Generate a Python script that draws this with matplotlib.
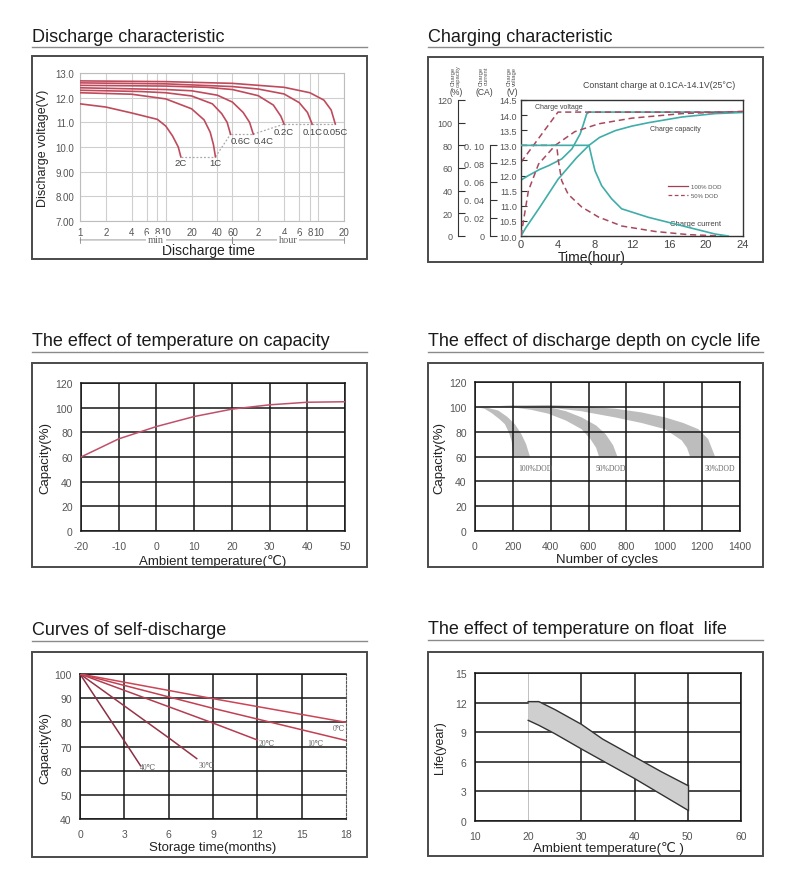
import numpy as np
import matplotlib
matplotlib.use('Agg')
import matplotlib.pyplot as plt
from matplotlib.patches import Rectangle
from matplotlib.lines import Line2D
from matplotlib.ticker import NullLocator

SANS = ['Liberation Sans', 'DejaVu Sans']
SERIF = ['Liberation Serif', 'DejaVu Serif']
plt.rcParams['font.family'] = SANS
plt.rcParams['axes.unicode_minus'] = False

# ---------------- DATA ----------------
# Panel 1: discharge characteristic (time in minutes, voltage)
dis_names = ['0.05C', '0.1C', '0.2C', '0.4C', '0.6C', '1C', '2C']
t_005 = [1, 10, 60, 240, 480, 700, 850, 950]
v_005 = [12.68, 12.65, 12.58, 12.42, 12.2, 11.9, 11.5, 10.93]
t_01 = [1, 10, 60, 120, 240, 360, 450, 510]
v_01 = [12.6, 12.56, 12.45, 12.35, 12.15, 11.8, 11.4, 10.93]
t_02 = [1, 10, 30, 60, 120, 180, 220, 240]
v_02 = [12.5, 12.47, 12.42, 12.33, 12.08, 11.7, 11.25, 10.93]
t_04 = [1, 10, 20, 40, 60, 80, 95, 105]
v_04 = [12.4, 12.33, 12.28, 12.1, 11.82, 11.4, 11.0, 10.52]
t_06 = [1, 5, 10, 20, 35, 45, 52, 57]
v_06 = [12.3, 12.25, 12.2, 12.07, 11.75, 11.35, 11.0, 10.52]
t_1c = [1, 4, 10, 20, 28, 33, 36, 38]
v_1c = [12.2, 12.14, 11.95, 11.55, 11.1, 10.6, 10.1, 9.6]
t_2c = [1, 2, 4, 8, 10, 12, 14, 15]
v_2c = [11.75, 11.62, 11.38, 11.12, 10.85, 10.45, 10.0, 9.6]
dis_xticks = [1, 2, 4, 6, 8, 10, 20, 40, 60, 120, 240, 360, 480, 600, 1200]
dis_xticklabels = ['1', '2', '4', '6', '8', '10', '20', '40', '60', '2', '4', '6', '8', '10', '20']
dis_yticks = [7, 8, 9, 10, 11, 12, 13]
dis_yticklabels = ['7.00', '8.00', '9.00', '10.0', '11.0', '12.0', '13.0']

# Panel 2: charging characteristic (hours)
ch_t_v100 = [0, 0.8, 2, 3, 4.4, 5.5, 6.4, 6.75, 7.1, 7.35, 24]
ch_v100 = [11.85, 12.0, 12.2, 12.33, 12.55, 12.88, 13.38, 13.7, 14.04, 14.1, 14.1]
ch_t_v50 = [0, 4.0, 24]
ch_v50 = [12.44, 14.1, 14.1]
ch_t_c100 = [0, 0.5, 2, 4, 6, 7.35, 8.5, 10.2, 12, 13.8, 17.4, 21, 24]
ch_c100 = [0, 7, 25, 50, 69, 80, 87, 93, 97, 100, 105, 108, 109]
ch_t_c50 = [0, 0.8, 1.9, 3.7, 5.8, 8.4, 12, 17.4, 24]
ch_c50 = [0, 40, 63.5, 80, 92, 99, 104, 108, 110]
ch_t_i100 = [0, 7.35, 7.64, 8.0, 8.72, 9.8, 10.88, 13.77, 17.37, 20.97, 22.4]
ch_i100 = [0.10, 0.10, 0.087, 0.072, 0.0555, 0.041, 0.030, 0.0206, 0.0114, 0.0022, 0.0]
ch_t_i50 = [0, 3.86, 4.04, 4.4, 5.1, 6.56, 8.36, 10.9, 14.5, 18.1, 21.7]
ch_i50 = [0.10, 0.10, 0.083, 0.061, 0.046, 0.032, 0.021, 0.011, 0.005, 0.0015, 0.0]
ch_xticks = [0, 4, 8, 12, 16, 20, 24]
ch_vticks = [10.0, 10.5, 11.0, 11.5, 12.0, 12.5, 13.0, 13.5, 14.0, 14.5]
ch_capticks = [0, 20, 40, 60, 80, 100, 120]
ch_curticks = [0, 0.02, 0.04, 0.06, 0.08, 0.10]
ch_curticklabels = ['0', '0. 02', '0. 04', '0. 06', '0. 08', '0. 10']

# Panel 3: temperature vs capacity
tc_temp = [-20, -10, 0, 10, 20, 30, 40, 50]
tc_cap = [60, 74.7, 84.7, 92.8, 98.8, 102.3, 104.4, 104.8]

# Panel 4: depth of discharge vs cycle life (bands: outer / inner edges)
d100_out_x = [0, 60, 123, 170, 211, 245, 270, 290]
d100_out_y = [100, 99.5, 97, 92, 86, 78, 70, 60]
d100_in_x = [0, 50, 88, 130, 158, 180, 194, 203]
d100_in_y = [100, 98.5, 95, 90, 86, 79, 72, 60]
d50_out_x = [0, 200, 387, 480, 563, 640, 690, 730, 752]
d50_out_y = [100, 101, 100, 96.5, 91.5, 85, 78, 69, 60]
d50_in_x = [0, 200, 300, 387, 480, 563, 610, 640, 655]
d50_in_y = [100, 99.5, 97.5, 94.5, 89, 82, 74, 67, 60]
d30_out_x = [0, 200, 387, 560, 740, 880, 1004, 1100, 1180, 1232, 1268]
d30_out_y = [100, 101, 101.5, 100.5, 98.5, 95.5, 91.5, 87, 82, 74, 60]
d30_in_x = [0, 200, 387, 560, 740, 880, 1004, 1092, 1120, 1136]
d30_in_y = [100, 100, 99.5, 96.5, 91.5, 87, 82, 73, 67, 60]
dod_labels = ['100%DOD', '50%DOD', '30%DOD']

# Panel 5: self-discharge (months, capacity %)
sd_names = ['40\u2103', '30\u2103', '20\u2103', '10\u2103', '0\u2103']
sd_m40 = [0, 3, 4.1];  sd_c40 = [100, 72.3, 62]
sd_m30 = [0, 6, 7.9];  sd_c30 = [100, 73.6, 65]
sd_m20 = [0, 9, 12];   sd_c20 = [100, 79.7, 72.7]
sd_m10 = [0, 9, 18];   sd_c10 = [100, 85.8, 72.5]
sd_m0 = [0, 9, 18];    sd_c0 = [100, 89.8, 80]

# Panel 6: float life band
fl_temp = [20, 22, 25, 30, 34, 40, 45, 50]
fl_upper = [12.1, 12.1, 11.3, 9.8, 8.3, 6.5, 5.0, 3.6]
fl_lower = [10.2, 9.7, 8.85, 7.3, 6.1, 4.3, 2.7, 1.1]

# ---------------- FIGURE ----------------
W, H = 790.0, 895.0
fig = plt.figure(figsize=(7.9, 8.95), dpi=100)
fig.patch.set_facecolor('white')


def rect(x0, y0, x1, y1):
    return [x0 / W, 1 - y1 / H, (x1 - x0) / W, (y1 - y0) / H]


def panel_frame(box, title, ty, uy):
    x0, y0, x1, y1 = box
    fig.add_artist(Rectangle((x0 / W, 1 - y1 / H), (x1 - x0) / W, (y1 - y0) / H,
                             transform=fig.transFigure, fill=False, ec='#4a4a4a', lw=1.4))
    fig.add_artist(Line2D([x0 / W, x1 / W], [1 - uy / H] * 2, transform=fig.transFigure,
                          color='#8a8a8a', lw=1.0))
    fig.text(x0 / W, 1 - ty / H, title, fontsize=13, color='#1a1a1a', ha='left', va='center')


def grid_axes(ax):
    ax.set_axisbelow(False)
    ax.grid(True, color='#161616', lw=1.1, zorder=3)
    for s in ax.spines.values():
        s.set_color('#161616')
        s.set_linewidth(1.1)
        s.set_zorder(3)
    ax.tick_params(length=0, labelsize=7.5, labelcolor='#555555')
    ax.tick_params(axis='x', pad=7)
    ax.tick_params(axis='y', pad=6)


panel_frame((32, 57, 367, 260), 'Discharge characteristic', 37, 48)
panel_frame((428, 58, 763, 263), 'Charging characteristic', 37, 48)
panel_frame((32, 364, 367, 568), 'The effect of temperature on capacity', 342, 353)
panel_frame((428, 364, 763, 568), 'The effect of discharge depth on cycle life', 342, 353)
panel_frame((32, 653, 367, 858), 'Curves of self-discharge', 631, 642)
panel_frame((428, 653, 763, 857), 'The effect of temperature on float  life', 630, 641)

# ---- Panel 1 ----
ax1 = fig.add_axes(rect(80, 74, 344, 222))
ax1.set_xscale('log')
ax1.set_xlim(1, 1200)
ax1.set_ylim(7, 13)
ax1.set_xticks(dis_xticks)
ax1.set_xticklabels(dis_xticklabels)
ax1.xaxis.set_minor_locator(NullLocator())
ax1.set_yticks(dis_yticks)
ax1.set_yticklabels(dis_yticklabels)
ax1.grid(True, color='#cfcfcf', lw=0.8)
for s in ax1.spines.values():
    s.set_color('#bdbdbd')
    s.set_linewidth(0.8)
ax1.tick_params(length=0, labelsize=7, labelcolor='#555555', pad=4)
red = '#bf4a5c'
curves = [(t_005, v_005), (t_01, v_01), (t_02, v_02), (t_04, v_04),
          (t_06, v_06), (t_1c, v_1c), (t_2c, v_2c)]
for t, v in curves:
    ax1.plot(t, v, color=red, lw=1.2, zorder=4)
dot = dict(color='#aaaaaa', lw=0.9, ls=(0, (1.5, 1.5)), zorder=3)
ends = [(c[0][-1], c[1][-1]) for c in curves]
order = [6, 5, 4, 3, 2, 1, 0]
for a, b in zip(order[:-1], order[1:]):
    ax1.plot([ends[a][0], ends[b][0]], [ends[a][1], ends[b][1]], **dot)
lab_ha = ['center', 'center', 'center', 'left', 'left', 'center', 'center']
lab_dy = [-0.3, -0.3, -0.3, -0.24, -0.24, -0.22, -0.22]
for i, name in enumerate(dis_names):
    ax1.text(ends[i][0], ends[i][1] + lab_dy[i], name, fontsize=6.8, color='#444444',
             ha=lab_ha[i], va='center', zorder=5)
ax1.set_ylabel('Discharge voltage(V)', fontsize=9, color='#222222')
ax1.yaxis.set_label_coords(-0.117, 0.5)
ax1.set_xlabel('Discharge time', fontsize=10, color='#222222')
ax1.xaxis.set_label_coords(0.485, -0.15)
ann_y = -0.128
arr = dict(arrowstyle='|-|,widthA=0.2,widthB=0.2', color='#888888', lw=0.6, shrinkA=0, shrinkB=0)
ax1.annotate('', xy=(60, ann_y), xytext=(1, ann_y), xycoords=('data', 'axes fraction'),
             textcoords=('data', 'axes fraction'), arrowprops=arr, annotation_clip=False)
ax1.annotate('', xy=(1200, ann_y), xytext=(60, ann_y), xycoords=('data', 'axes fraction'),
             textcoords=('data', 'axes fraction'), arrowprops=arr, annotation_clip=False)
for xm, s in [(7.7, 'min'), (268, 'hour')]:
    ax1.text(xm, ann_y, s, transform=ax1.get_xaxis_transform(), fontsize=7.5, color='#666666',
             family=SERIF, ha='center', va='center',
             bbox=dict(boxstyle='square,pad=0.15', fc='white', ec='none'))

# ---- Panel 2 ----
teal = '#3fada8'
dred = '#a8485e'
dash = (0, (4, 2.5))
ax2 = fig.add_axes(rect(521, 101, 743, 237))
ax2.set_xlim(0, 24)
ax2.set_ylim(10, 14.5)
ax2.set_xticks(ch_xticks)
ax2.set_yticks(ch_vticks)
ax2.set_yticklabels(['%.1f' % v for v in ch_vticks])
ax2.tick_params(axis='x', length=0, labelsize=8, labelcolor='#444444', pad=2)
ax2.tick_params(axis='y', direction='in', length=4, labelsize=6.5, labelcolor='#555555', pad=3,
                color='#333333')
for s in ax2.spines.values():
    s.set_color('#333333')
    s.set_linewidth(1.0)
ax2.set_xlabel('Time(hour)', fontsize=10, color='#222222')
ax2.xaxis.set_label_coords(0.32, -0.1)


def side_axis(pos, ylim, ticks, labels, bound):
    a = fig.add_axes(ax2.get_position(), facecolor='none')
    for k in ['top', 'right', 'bottom']:
        a.spines[k].set_visible(False)
    a.spines['left'].set_position(('axes', pos))
    a.spines['left'].set_bounds(*bound)
    a.spines['left'].set_color('#333333')
    a.set_xlim(0, 24)
    a.set_ylim(*ylim)
    a.set_xticks([])
    a.set_yticks(ticks)
    a.set_yticklabels(labels)
    a.tick_params(axis='y', direction='in', length=5, labelsize=6.5, labelcolor='#555555',
                  pad=4, color='#333333')
    return a


axc = side_axis(-0.284, (0, 120), ch_capticks, [str(v) for v in ch_capticks], (0, 120))
axi = side_axis(-0.14, (0, 0.15), ch_curticks, ch_curticklabels, (0, 0.10))

ax2.plot(ch_t_v100, ch_v100, color=teal, lw=1.2)
ax2.plot(ch_t_v50, ch_v50, color=dred, lw=1.1, ls=dash)
axc.plot(ch_t_c100, ch_c100, color=teal, lw=1.2)
axc.plot(ch_t_c50, ch_c50, color=dred, lw=1.1, ls=dash)
axi.plot(ch_t_i50, ch_i50, color=dred, lw=1.1, ls=dash)
axi.plot(ch_t_i100, ch_i100, color=teal, lw=1.2)

ax2.text(1.5, 14.3, 'Charge voltage', fontsize=5, color='#444444', ha='left', va='center')
ax2.text(13.9, 13.57, 'Charge capacity', fontsize=5, color='#444444', ha='left', va='center')
ax2.text(16.1, 10.42, 'Charge current', fontsize=5.5, color='#444444', ha='left', va='center')
leg = ax2.legend(handles=[Line2D([], [], color='#a04050', lw=0.9),
                          Line2D([], [], color=dred, lw=0.9, ls=(0, (3, 2)))],
                 labels=['100% DOD', '50% DOD'], loc='center left',
                 bbox_to_anchor=(0.64, 0.33), frameon=False, fontsize=4.3,
                 handlelength=3.2, labelspacing=0.6, handletextpad=0.6)
for txt in leg.get_texts():
    txt.set_color('#555555')
fig.text(583 / W, 1 - 86 / H, 'Constant charge at 0.1CA-14.1V(25\u00b0C)', fontsize=6.3,
         color='#444444', ha='left', va='center')
for xh, head, unit in [(456, 'Charge\ncapacity', '(%)'), (484, 'Charge\ncurrent', '(CA)'),
                       (512, 'Charge\nvoltage', '(V)')]:
    fig.text(xh / W, 1 - 76 / H, head, rotation=90, fontsize=4.2, color='#555555',
             ha='center', va='center', linespacing=1.0)
    fig.text(xh / W, 1 - 93 / H, unit, fontsize=6.2, color='#444444', ha='center', va='center')

# ---- Panel 3 ----
ax3 = fig.add_axes(rect(81, 384, 345, 532))
ax3.set_xlim(-20, 50)
ax3.set_ylim(0, 120)
ax3.set_xticks(range(-20, 51, 10))
ax3.set_yticks(range(0, 121, 20))
grid_axes(ax3)
ax3.plot(tc_temp, tc_cap, color='#c0506a', lw=1.1, zorder=4)
ax3.set_ylabel('Capacity(%)', fontsize=9.5, color='#222222')
ax3.yaxis.set_label_coords(-0.114, 0.5)
ax3.set_xlabel('Ambient temperature(\u2103)', fontsize=9.5, color='#222222')
ax3.xaxis.set_label_coords(0.5, -0.155)

# ---- Panel 4 ----
ax4 = fig.add_axes(rect(475, 383, 740, 532))
ax4.set_xlim(0, 1400)
ax4.set_ylim(0, 120)
ax4.set_xticks(range(0, 1401, 200))
ax4.set_yticks(range(0, 121, 20))
grid_axes(ax4)
bands = [(d100_out_x, d100_out_y, d100_in_x, d100_in_y),
         (d50_out_x, d50_out_y, d50_in_x, d50_in_y),
         (d30_out_x, d30_out_y, d30_in_x, d30_in_y)]
for ox, oy, ix, iy in bands:
    ax4.fill(np.concatenate([ox, ix[::-1]]), np.concatenate([oy, iy[::-1]]),
             color='#bdbdbd', lw=0, zorder=2)
lab_x = [320, 715, 1293]
for xl, s in zip(lab_x, dod_labels):
    ax4.text(xl, 50.5, s, fontsize=5.5, color='#666666', family=SERIF, ha='center', va='center',
             zorder=5)
ax4.set_ylabel('Capacity(%)', fontsize=9.5, color='#222222')
ax4.yaxis.set_label_coords(-0.113, 0.5)
ax4.set_xlabel('Number of cycles', fontsize=9.5, color='#222222')
ax4.xaxis.set_label_coords(0.5, -0.145)

# ---- Panel 5 ----
ax5 = fig.add_axes(rect(80, 675, 346, 820))
ax5.set_xlim(0, 18)
ax5.set_ylim(40, 100)
ax5.set_xticks(range(0, 19, 3))
ax5.set_yticks(range(40, 101, 10))
grid_axes(ax5)
ax5.get_xgridlines()[-1].set_visible(False)
ax5.spines['right'].set_linestyle((0, (2, 1.5)))
ax5.spines['right'].set_linewidth(0.8)
ax5.spines['right'].set_color('#555555')
sd_lines = [(sd_m40, sd_c40), (sd_m30, sd_c30), (sd_m20, sd_c20), (sd_m10, sd_c10), (sd_m0, sd_c0)]
sd_colors = ['#8a2f44', '#963447', '#b53c50', '#c24052', '#cc4556']
for (m, c), col in zip(sd_lines, sd_colors):
    ax5.plot(m, c, color=col, lw=1.1, zorder=4)
sd_lab_pos = [(4.05, 61.5), (8.05, 62.5), (12.1, 71.4), (15.4, 71.4), (17.1, 77.6)]
for (xl, yl), s in zip(sd_lab_pos, sd_names):
    ax5.text(xl, yl, s, fontsize=5.5, color='#666666', family=SERIF, ha='left', va='center',
             zorder=5)
ax5.set_ylabel('Capacity(%)', fontsize=9.5, color='#222222')
ax5.yaxis.set_label_coords(-0.109, 0.5)
ax5.set_xlabel('Storage time(months)', fontsize=9.5, color='#222222')
ax5.xaxis.set_label_coords(0.5, -0.155)

# ---- Panel 6 ----
ax6 = fig.add_axes(rect(475, 674, 741, 822))
ax6.set_xlim(10, 60)
ax6.set_ylim(0, 15)
ax6.set_xticks(range(10, 61, 10))
ax6.set_yticks(range(0, 16, 3))
grid_axes(ax6)
g20 = ax6.get_xgridlines()[1]
g20.set_color('#b5b5b5')
g20.set_linewidth(0.6)
ax6.fill_between(fl_temp, fl_lower, fl_upper, color='#cfcfcf', lw=0, zorder=4)
ax6.plot(fl_temp, fl_upper, color='#333333', lw=1.0, zorder=5)
ax6.plot(fl_temp, fl_lower, color='#333333', lw=1.0, zorder=5)
ax6.plot([fl_temp[-1], fl_temp[-1]], [fl_lower[-1], fl_upper[-1]], color='#333333', lw=1.0, zorder=5)
ax6.set_ylabel('Life(year)', fontsize=9, color='#222222')
ax6.yaxis.set_label_coords(-0.109, 0.5)
ax6.set_xlabel('Ambient temperature(\u2103 )', fontsize=9.5, color='#222222')
ax6.xaxis.set_label_coords(0.5, -0.135)

fig.savefig('out.png', dpi=100, facecolor='white')
